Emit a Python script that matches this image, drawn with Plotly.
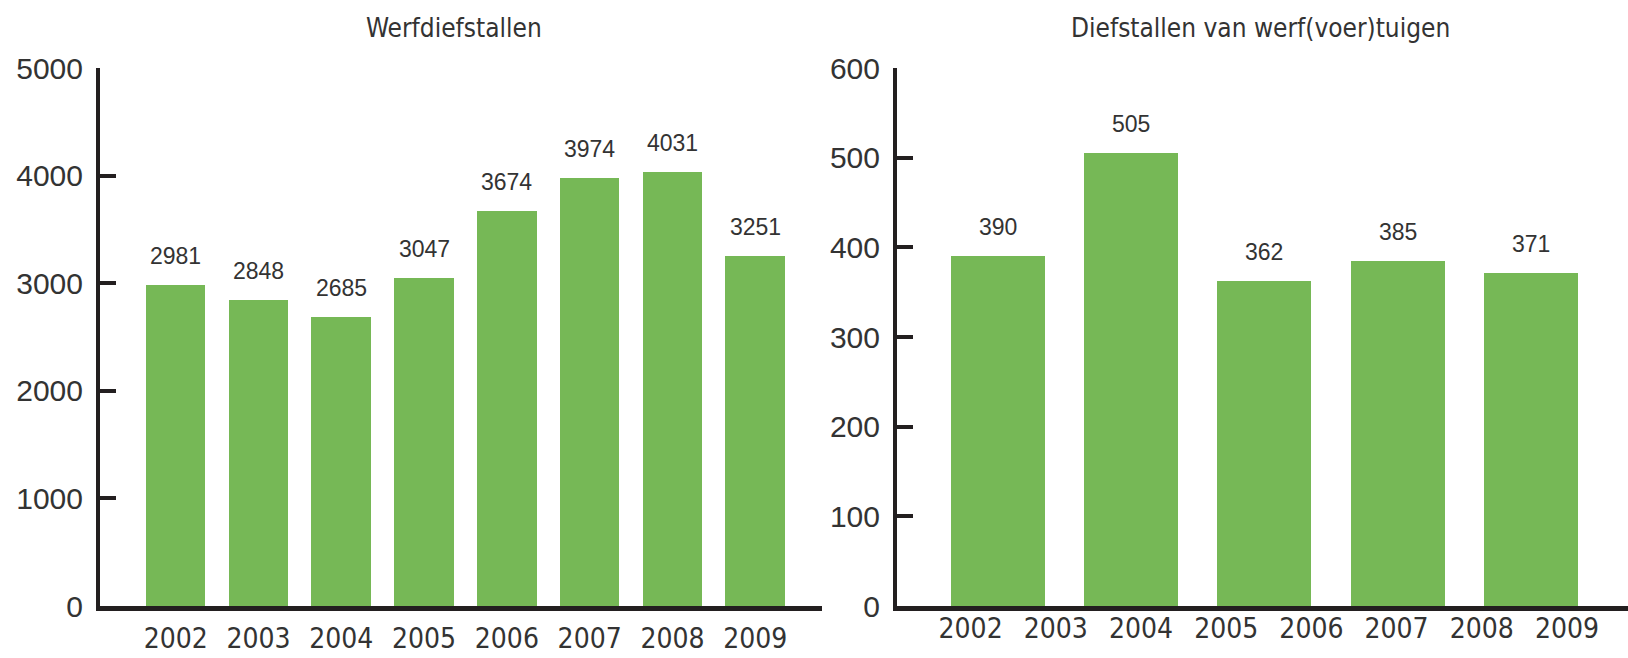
import plotly.graph_objects as go

# ---------------- data ----------------
left_title = "Werfdiefstallen"
left_years = ["2002", "2003", "2004", "2005", "2006", "2007", "2008", "2009"]
left_values = [2981, 2848, 2685, 3047, 3674, 3974, 4031, 3251]
left_yticks = [0, 1000, 2000, 3000, 4000, 5000]

right_title = "Diefstallen van werf(voer)tuigen"
right_values = [390, 505, 362, 385, 371]
right_year_ticks = [2002, 2003, 2004, 2005, 2006, 2007, 2008, 2009]
right_yticks = [0, 100, 200, 300, 400, 500, 600]

# ---------------- style ----------------
W, H = 1628, 658
GREEN = "#76b856"
AXIS = "#231f20"
TXT = "#333333"
NARROW = "Liberation Sans Narrow, Arial Narrow, DejaVu Sans Condensed, sans-serif"
SANS = "Liberation Sans, Arial, sans-serif"

ydom = [(H - 606) / H, (H - 68) / H]
xdom1 = [100 / W, 822 / W]
xdom2 = [897 / W, 1.0]

left_pos = list(range(len(left_values)))
right_pos = list(range(len(right_values)))

fig = go.Figure()

fig.add_trace(go.Bar(
    x=left_pos, y=left_values, marker=dict(color=GREEN, line=dict(width=0)),
    width=0.72, xaxis="x", yaxis="y", hoverinfo="skip", showlegend=False))

fig.add_trace(go.Bar(
    x=right_pos, y=right_values, marker=dict(color=GREEN, line=dict(width=0)),
    width=0.706, xaxis="x2", yaxis="y2", hoverinfo="skip", showlegend=False))

# invisible trace to carry the year-label overlay axis
fig.add_trace(go.Scatter(
    x=right_year_ticks, y=[None] * len(right_year_ticks), mode="markers",
    xaxis="x3", yaxis="y2", hoverinfo="skip", showlegend=False))

annotations = []
for p, v in zip(left_pos, left_values):
    annotations.append(dict(x=p, y=v, xref="x", yref="y", text=str(v),
                            showarrow=False, yanchor="bottom", yshift=14,
                            font=dict(family=SANS, size=23, color=TXT)))
for p, v in zip(right_pos, right_values):
    annotations.append(dict(x=p, y=v, xref="x2", yref="y2", text=str(v),
                            showarrow=False, yanchor="bottom", yshift=14,
                            font=dict(family=SANS, size=23, color=TXT)))

annotations.append(dict(x=453.5 / W, y=(H - 28) / H, xref="paper", yref="paper",
                        text=left_title, showarrow=False, xanchor="center", yanchor="middle",
                        font=dict(family=NARROW, size=26, color=TXT)))
annotations.append(dict(x=1260 / W, y=(H - 28) / H, xref="paper", yref="paper",
                        text=right_title, showarrow=False, xanchor="center", yanchor="middle",
                        font=dict(family=NARROW, size=26, color=TXT)))

yaxis_common = dict(
    showgrid=False, zeroline=False, showline=True, linecolor=AXIS, linewidth=4,
    ticks="inside", ticklen=16, tickwidth=4, tickcolor=AXIS, automargin=False,
    tickfont=dict(family=SANS, size=30, color=TXT), ticklabelstandoff=7,
    domain=ydom)

xaxis_common = dict(
    showgrid=False, zeroline=False, showline=True, linecolor=AXIS, linewidth=5,
    ticks="", automargin=False, tickfont=dict(family=NARROW, size=28, color=TXT))

fig.update_layout(
    width=W, height=H, margin=dict(l=0, r=0, t=0, b=0, pad=0, autoexpand=False),
    paper_bgcolor="white", plot_bgcolor="white",
    bargap=0,
    xaxis=dict(**xaxis_common, domain=xdom1, anchor="y",
               range=[-0.914, 7.806], tickvals=left_pos, ticktext=left_years,
               ticklabelstandoff=3),
    yaxis=dict(**yaxis_common, anchor="x", range=[0, 5000], tickvals=left_yticks),
    xaxis2=dict(**xaxis_common, domain=xdom2, anchor="y2",
                range=[-0.758, 4.730], showticklabels=False),
    yaxis2=dict(**yaxis_common, anchor="x2", range=[0, 600], tickvals=right_yticks),
    xaxis3=dict(overlaying="x2", anchor="y2", side="bottom", showgrid=False,
                zeroline=False, showline=False, ticks="", automargin=False,
                range=[2001.136, 2009.716], tickvals=right_year_ticks,
                ticktext=[str(y) for y in right_year_ticks],
                tickfont=dict(family=NARROW, size=28, color=TXT),
                ticklabelstandoff=3),
    annotations=annotations,
)

fig.write_html(
    "out.html",
    config={"displayModeBar": False},
    post_script="document.body.style.margin='0';document.body.style.overflow='hidden';",
)
